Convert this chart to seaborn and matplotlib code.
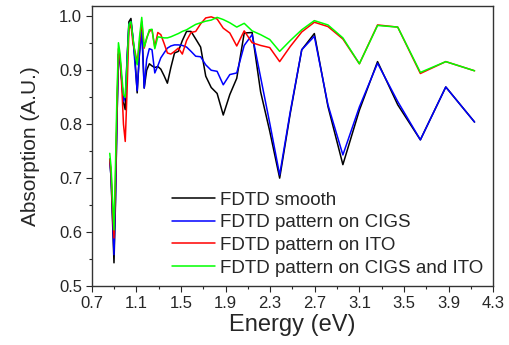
import pandas as pd
import matplotlib
matplotlib.use("Agg")
import matplotlib.pyplot as plt
from matplotlib.ticker import FixedLocator, MultipleLocator
import seaborn as sns

# energia (eV) de cada ponto, de 300 nm a 1440 nm em passos de 20 nm
energia = [4.133, 3.875, 3.647, 3.444, 3.263, 3.100, 2.952, 2.818, 2.696, 2.583,
           2.480, 2.385, 2.296, 2.214, 2.138, 2.067, 2.000, 1.938, 1.879, 1.824,
           1.771, 1.722, 1.676, 1.632, 1.590, 1.550, 1.512, 1.476, 1.442, 1.409,
           1.378, 1.348, 1.319, 1.292, 1.265, 1.240, 1.216, 1.192, 1.170, 1.148,
           1.127, 1.107, 1.088, 1.069, 1.051, 1.033, 1.016, 1.000, 0.984, 0.969,
           0.954, 0.939, 0.925, 0.912, 0.899, 0.886, 0.873, 0.861]

smooth = [0.804, 0.869, 0.771, 0.836, 0.916, 0.826, 0.725, 0.833, 0.968, 0.938,
          0.820, 0.700, 0.787, 0.860, 0.970, 0.969, 0.885, 0.855, 0.817, 0.857,
          0.868, 0.889, 0.943, 0.958, 0.972, 0.972, 0.955, 0.935, 0.932, 0.905,
          0.876, 0.890, 0.902, 0.907, 0.905, 0.908, 0.912, 0.900, 0.867, 0.985,
          0.930, 0.858, 0.920, 0.960, 0.996, 0.990, 0.920, 0.827, 0.840, 0.880,
          0.920, 0.930, 0.800, 0.650, 0.543, 0.620, 0.700, 0.735]

cigs = [0.804, 0.869, 0.771, 0.842, 0.913, 0.832, 0.743, 0.836, 0.963, 0.938,
        0.823, 0.706, 0.802, 0.887, 0.966, 0.946, 0.895, 0.892, 0.873, 0.898,
        0.900, 0.910, 0.925, 0.926, 0.935, 0.943, 0.946, 0.947, 0.947, 0.945,
        0.941, 0.932, 0.923, 0.908, 0.895, 0.938, 0.940, 0.920, 0.867, 0.972,
        0.930, 0.862, 0.910, 0.960, 0.990, 0.985, 0.920, 0.850, 0.842, 0.880,
        0.910, 0.930, 0.800, 0.660, 0.558, 0.630, 0.700, 0.735]

ito = [0.899, 0.916, 0.894, 0.980, 0.984, 0.912, 0.958, 0.981, 0.989, 0.971,
       0.944, 0.916, 0.942, 0.946, 0.951, 0.973, 0.945, 0.969, 0.978, 0.995,
       0.999, 0.997, 0.986, 0.972, 0.970, 0.955, 0.930, 0.941, 0.935, 0.930,
       0.932, 0.950, 0.966, 0.970, 0.943, 0.975, 0.972, 0.960, 0.941, 0.990,
       0.950, 0.913, 0.935, 0.950, 0.985, 0.975, 0.860, 0.768, 0.800, 0.870,
       0.920, 0.940, 0.820, 0.690, 0.589, 0.640, 0.710, 0.735]

cigs_ito = [0.899, 0.916, 0.896, 0.980, 0.983, 0.912, 0.960, 0.984, 0.992, 0.975,
            0.955, 0.935, 0.957, 0.966, 0.973, 0.987, 0.980, 0.988, 0.994, 0.998,
            0.993, 0.991, 0.988, 0.985, 0.980, 0.975, 0.972, 0.968, 0.965, 0.962,
            0.960, 0.960, 0.961, 0.962, 0.940, 0.976, 0.975, 0.958, 0.943, 0.998,
            0.960, 0.910, 0.930, 0.960, 0.990, 0.985, 0.910, 0.850, 0.855, 0.890,
            0.930, 0.951, 0.850, 0.720, 0.604, 0.660, 0.720, 0.746]

nomes = ['FDTD smooth', 'FDTD pattern on CIGS', 'FDTD pattern on ITO',
         'FDTD pattern on CIGS and ITO']
cores = ['#000000', '#0000FF', '#FF0000', '#00FF00']

ticks_x = [0.7, 1.1, 1.5, 1.9, 2.3, 2.7, 3.1, 3.5, 3.9, 4.3]

dados = pd.DataFrame({
    'Energia': energia * 4,
    'Absorcao': smooth + cigs + ito + cigs_ito,
    'Curva': [n for n in nomes for _ in energia],
})

sns.set_style('ticks')
plt.rcParams['font.family'] = ['Liberation Sans', 'DejaVu Sans']

fig = plt.figure(figsize=(5.1, 3.45), dpi=100)
ax = fig.add_axes([0.180, 0.171, 0.787, 0.813])

sns.lineplot(data=dados, x='Energia', y='Absorcao', hue='Curva', hue_order=nomes,
             palette=cores, sort=False, estimator=None, linewidth=1.1, ax=ax)

ax.set_xlim(0.7, 4.3)
ax.set_ylim(0.5, 1.02)
ax.xaxis.set_major_locator(FixedLocator(ticks_x))
ax.xaxis.set_minor_locator(FixedLocator([t + 0.2 for t in ticks_x[:-1]]))
ax.yaxis.set_major_locator(MultipleLocator(0.1))
ax.yaxis.set_minor_locator(MultipleLocator(0.05))
ax.tick_params(which='major', direction='out', length=4, width=0.8, labelsize=12, pad=3)
ax.tick_params(which='minor', direction='out', length=2.5, width=0.8)
ax.xaxis.set_major_formatter(plt.FuncFormatter(lambda v, p: f'{v:.1f}'))
ax.yaxis.set_major_formatter(plt.FuncFormatter(lambda v, p: f'{v:.1f}'))
for s in ax.spines.values():
    s.set_linewidth(1.0)
    s.set_color('#333333')

ax.set_xlabel('Energy (eV)', fontsize=17, labelpad=2)
ax.set_ylabel('Absorption (A.U.)', fontsize=15, labelpad=14)

ax.legend(loc='center left', bbox_to_anchor=(0.2, 0.185), frameon=False,
          fontsize=13.5, handlelength=2.3, handletextpad=0.27, labelspacing=0.3,
          borderaxespad=0, borderpad=0)

fig.savefig('out.png', dpi=100)
